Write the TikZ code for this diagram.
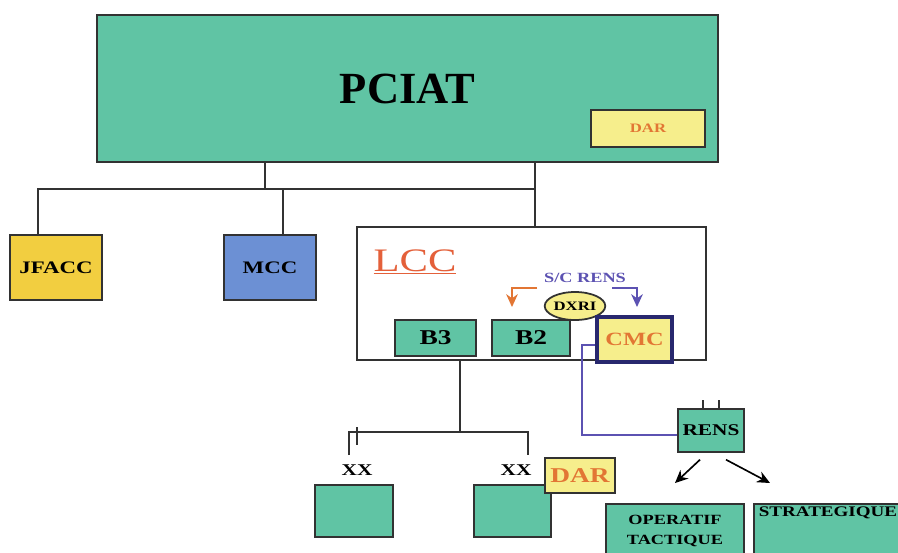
\documentclass[tikz,border=0pt]{standalone}
\usepackage{fontspec}
\setmainfont{Liberation Serif}
\newfontfamily\widefont[FakeStretch=1.3]{Liberation Serif}
\usepackage{tikz}
\usetikzlibrary{calc,positioning,shapes.geometric,arrows,arrows.meta}
\tikzstyle{arrow} = [thick,->,>={Stealth[length=11pt,width=10pt]}]
\definecolor{boxgreen}{RGB}{96,196,164}
\definecolor{paleyellow}{RGB}{246,238,140}
\definecolor{jfaccyellow}{RGB}{242,206,64}
\definecolor{mccblue}{RGB}{108,144,212}
\definecolor{darorange}{RGB}{226,118,52}
\definecolor{lccred}{RGB}{228,96,58}
\definecolor{renspurple}{RGB}{92,82,178}
\definecolor{cmcnavy}{RGB}{40,40,110}
\definecolor{edge}{RGB}{50,50,50}

\begin{document}
\begin{tikzpicture}[x=0.03cm, y=-0.03cm,
greenbox/.style={rectangle, draw=edge, fill=boxgreen, line width=1.7pt, inner sep=0pt},
darbox/.style={rectangle, draw=edge, fill=paleyellow, line width=1.7pt, inner sep=0pt, text=darorange},
link/.style={draw=edge, line width=1.6pt},
renslink/.style={draw=renspurple, line width=1.2pt},
tag/.style={inner sep=0pt},]
\useasboundingbox (0,0) rectangle (898,552);
\clip (0,0) rectangle (898,552);
%Nodes
\node[greenbox, minimum width=18.63cm, minimum height=4.41cm, font=\bfseries\fontsize{38}{40}\selectfont] (pciat) at (407.5,88.5) {PCIAT};
\node[darbox, minimum width=3.42cm, minimum height=1.11cm, font=\widefont\bfseries\fontsize{11}{12}\selectfont] (pdar) at (648,128.5) {DAR};
\node[greenbox, fill=jfaccyellow, minimum width=2.76cm, minimum height=1.95cm, font=\widefont\bfseries\fontsize{15}{16}\selectfont] (jfacc) at (56,267.5) {JFACC};
\node[greenbox, fill=mccblue, minimum width=2.76cm, minimum height=1.95cm, font=\widefont\bfseries\fontsize{15}{16}\selectfont] (mcc) at (270,267.5) {MCC};
\node[rectangle, draw=edge, fill=white, line width=2.5pt, minimum width=10.47cm, minimum height=3.99cm] (lcc) at (531.5,293.5) {};
\node[tag, text=lccred, font=\widefont\fontsize{28}{30}\selectfont] (lcctitle) at (415,262) {\underline{LCC}};
\node[tag, text=renspurple, font=\widefont\bfseries\fontsize{12}{13}\selectfont] (screns) at (585,278) {S/C RENS};
\node[greenbox, minimum width=2.43cm, minimum height=1.08cm, font=\widefont\bfseries\fontsize{18}{19}\selectfont] (b3) at (435.5,338) {B3};
\node[greenbox, minimum width=2.34cm, minimum height=1.08cm, font=\widefont\bfseries\fontsize{18}{19}\selectfont] (b2) at (531,338) {B2};
\node[ellipse, draw=edge, fill=paleyellow, line width=1.5pt, minimum width=1.65cm, minimum height=0.84cm, inner sep=0pt, font=\widefont\bfseries\fontsize{11}{12}\selectfont] (dxri) at (575,306) {DXRI};
\node[rectangle, draw=cmcnavy, fill=paleyellow, line width=3.5pt, minimum width=2.25cm, minimum height=1.35cm, text=darorange, font=\widefont\bfseries\fontsize{16}{17}\selectfont] (cmc) at (634.5,339.5) {CMC};
\node[tag, font=\widefont\bfseries\fontsize{14}{15}\selectfont] (xxl) at (357,470) {XX};
\node[tag, font=\widefont\bfseries\fontsize{14}{15}\selectfont] (xxr) at (516,470) {XX};
\node[greenbox, minimum width=2.34cm, minimum height=1.56cm] (divl) at (354,511) {};
\node[greenbox, minimum width=2.31cm, minimum height=1.56cm] (divr) at (512.5,511) {};
\node[darbox, minimum width=2.1cm, minimum height=1.05cm, font=\widefont\bfseries\fontsize{18}{19}\selectfont] (ddar) at (580,475.5) {DAR};
\node[greenbox, minimum width=1.98cm, minimum height=1.29cm, font=\widefont\bfseries\fontsize{14}{15}\selectfont] (rens) at (711,430.5) {RENS};
\node[greenbox, anchor=north, minimum width=4.14cm, minimum height=1.6cm, align=center, font=\widefont\bfseries\fontsize{12}{17}\selectfont] (optac) at (675,503) {OPERATIF\\TACTIQUE};
\node[greenbox, anchor=north west, minimum width=5.1cm, minimum height=1.8cm] (strat) at (753,503) {};
\node[tag, font=\widefont\bfseries\fontsize{12.5}{13}\selectfont] (strattext) at (828,513) {STRATEGIQUE};

%Lines
\coordinate (barw) at (38,189);
\coordinate (barm) at (265,189);
\coordinate (barmcc) at (283,189);
\coordinate (bare) at (535,189);
\draw[link] (jfacc.north -| barw) -- (barw) -- (bare);
\draw[link] (pciat.south -| barm) -- (barm);
\draw[link] (barmcc) -- (mcc.north -| barmcc);
\draw[link] (pciat.south -| bare) -- (lcc.north -| bare);

\coordinate (divm) at (460,432);
\coordinate (divw) at (349,432);
\coordinate (dive) at (528,432);
\coordinate (divwend) at (349,455);
\coordinate (diveend) at (528,455);
\coordinate (tick) at (357,427);
\draw[link] (lcc.south -| divm) -- (divm);
\draw[link] (divwend) -- (divw) -- (dive) -- (diveend);
\draw[link] (tick) -- ++(0,18);

\coordinate (orangestart) at (537,288);
\coordinate (orangetip) at (512,307);
\coordinate (bluestart) at (612,288);
\coordinate (bluetip) at (637,307);
\draw[arrow, draw=darorange, line width=1.3pt] (orangestart) -| (orangetip);
\draw[arrow, draw=renspurple, line width=1.3pt] (bluestart) -| (bluetip);

\coordinate (renscorner) at (582,435);
\draw[renslink] ([yshift=-0.17cm]cmc.west) -| (renscorner) -- (rens.west |- renscorner);
\draw[link, line width=1.2pt] ([xshift=-0.24cm]rens.north) -- ++(0,-8);
\draw[link, line width=1.2pt] ([xshift=0.24cm]rens.north) -- ++(0,-8);

\coordinate (optip) at (675,483);
\coordinate (strattip) at (770,483);
\draw[arrow, line width=1.4pt] ([shift={(-0.33cm,-0.2cm)}]rens.south) -- (optip);
\draw[arrow, line width=1.4pt] ([shift={(0.45cm,-0.2cm)}]rens.south) -- (strattip);
\end{tikzpicture}
\end{document}
